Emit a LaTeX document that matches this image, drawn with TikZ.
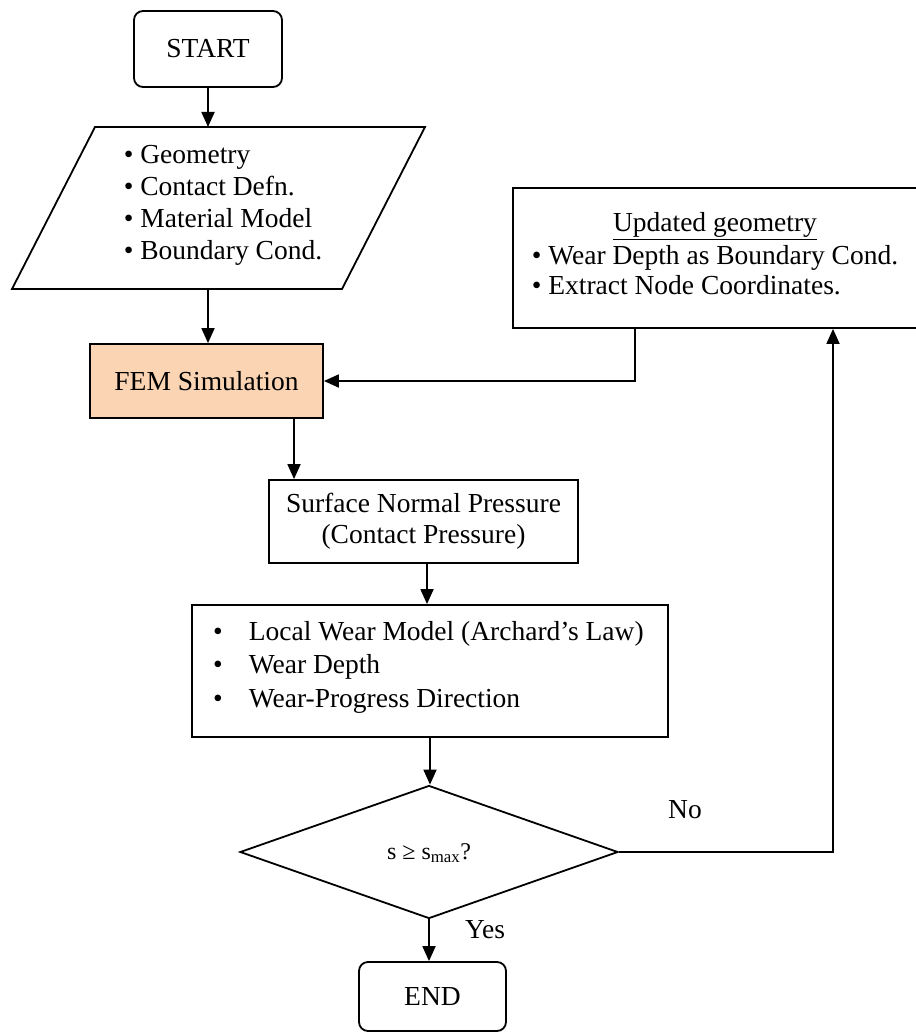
\documentclass[tikz,border=0pt]{standalone}
\usepackage{fontspec}
\setmainfont{Liberation Serif}
\usetikzlibrary{arrows.meta,shapes.geometric}
\definecolor{peach}{HTML}{FBD4B4}
\begin{document}
\begin{tikzpicture}[x=1pt,y=-1pt,
  every node/.style={font=\fontsize{27.5}{32}\selectfont},
  ln/.style={line width=1.8pt},
  box/.style={draw,ln,inner sep=0pt},
  rbox/.style={box,rounded corners=9pt},
  arr/.style={ln,-{Triangle[length=15pt,width=13pt]}},
  txt/.style={inner sep=0pt,align=left}]
\useasboundingbox (0,0) rectangle (915,1032);
% start
\node[rbox,minimum width=148pt,minimum height=76pt] (start) at (208,49) {START};
% input parallelogram
\draw[ln,line join=miter] (95,127) -- (425,127) -- (342,289) -- (12,289) -- cycle;
\coordinate (inN) at (208,127);
\coordinate (inS) at (208,289);
\node[txt] (inp) at (223,205) {\textbullet{} Geometry\\ \textbullet{} Contact Defn.\\ \textbullet{} Material Model\\ \textbullet{} Boundary Cond.};
% FEM
\node[box,fill=peach,minimum width=233pt,minimum height=74pt] (fem) at (206.5,381) {FEM Simulation};
% updated geometry
\node[box,minimum width=405pt,minimum height=140pt] (upd) at (715.5,258) {};
\node[txt,font=\fontsize{27.5}{30}\selectfont] (updtxt) at (715,257) {\begin{tabular}{@{}l@{}}\multicolumn{1}{@{}c@{}}{\underline{Updated geometry}}\\[3pt] \textbullet{} Wear Depth as Boundary Cond.\\ \textbullet{} Extract Node Coordinates.\end{tabular}};
% surface
\node[box,minimum width=309pt,minimum height=83pt,align=center,font=\fontsize{27.5}{31}\selectfont] (surf) at (423.5,521.5) {Surface Normal Pressure\\(Contact Pressure)};
% wear
\node[box,minimum width=476pt,minimum height=132pt] (wear) at (430,671) {};
\node[txt,anchor=west,font=\fontsize{27.5}{33.5}\selectfont] (weartxt) at (213,667) {\begin{tabular}{@{}l@{\hspace{26pt}}l@{}}\textbullet & Local Wear Model (Archard’s Law)\\ \textbullet & Wear Depth\\ \textbullet & Wear-Progress Direction\end{tabular}};
% decision
\node[box,diamond,minimum width=378pt,minimum height=133pt,line join=miter] (dec) at (429,852) {};
\node[inner sep=0pt,font=\fontsize{24}{28}\selectfont] (dectxt) at (429,853) {s ≥ s\textsubscript{max}?};
% end
\node[rbox,minimum width=147pt,minimum height=69pt] (end) at (432.5,996.5) {END};
% labels
\node (no) at (685,810) {No};
\node (yes) at (485,930) {Yes};
% connectors
\draw[arr] (start.south) -- (inN);
\draw[arr] (inS) -- (inS |- fem.north);
\coordinate (u1) at ([xshift=-80.5pt]upd.south);
\draw[arr] (u1) |- (fem.east);
\coordinate (f1) at ([xshift=87.5pt]fem.south);
\draw[arr] (f1) -- (f1 |- surf.north);
\coordinate (s1) at ([xshift=3.5pt]surf.south);
\draw[arr] (s1) -- (s1 |- wear.north);
\draw[arr] (wear.south) -- (wear.south |- dec.north);
\draw[arr] (dec.south) -- (dec.south |- end.north);
\coordinate (nc) at (833,852);
\draw[arr] (dec.east) -- (nc) -- (nc |- upd.south);
\end{tikzpicture}
\end{document}
